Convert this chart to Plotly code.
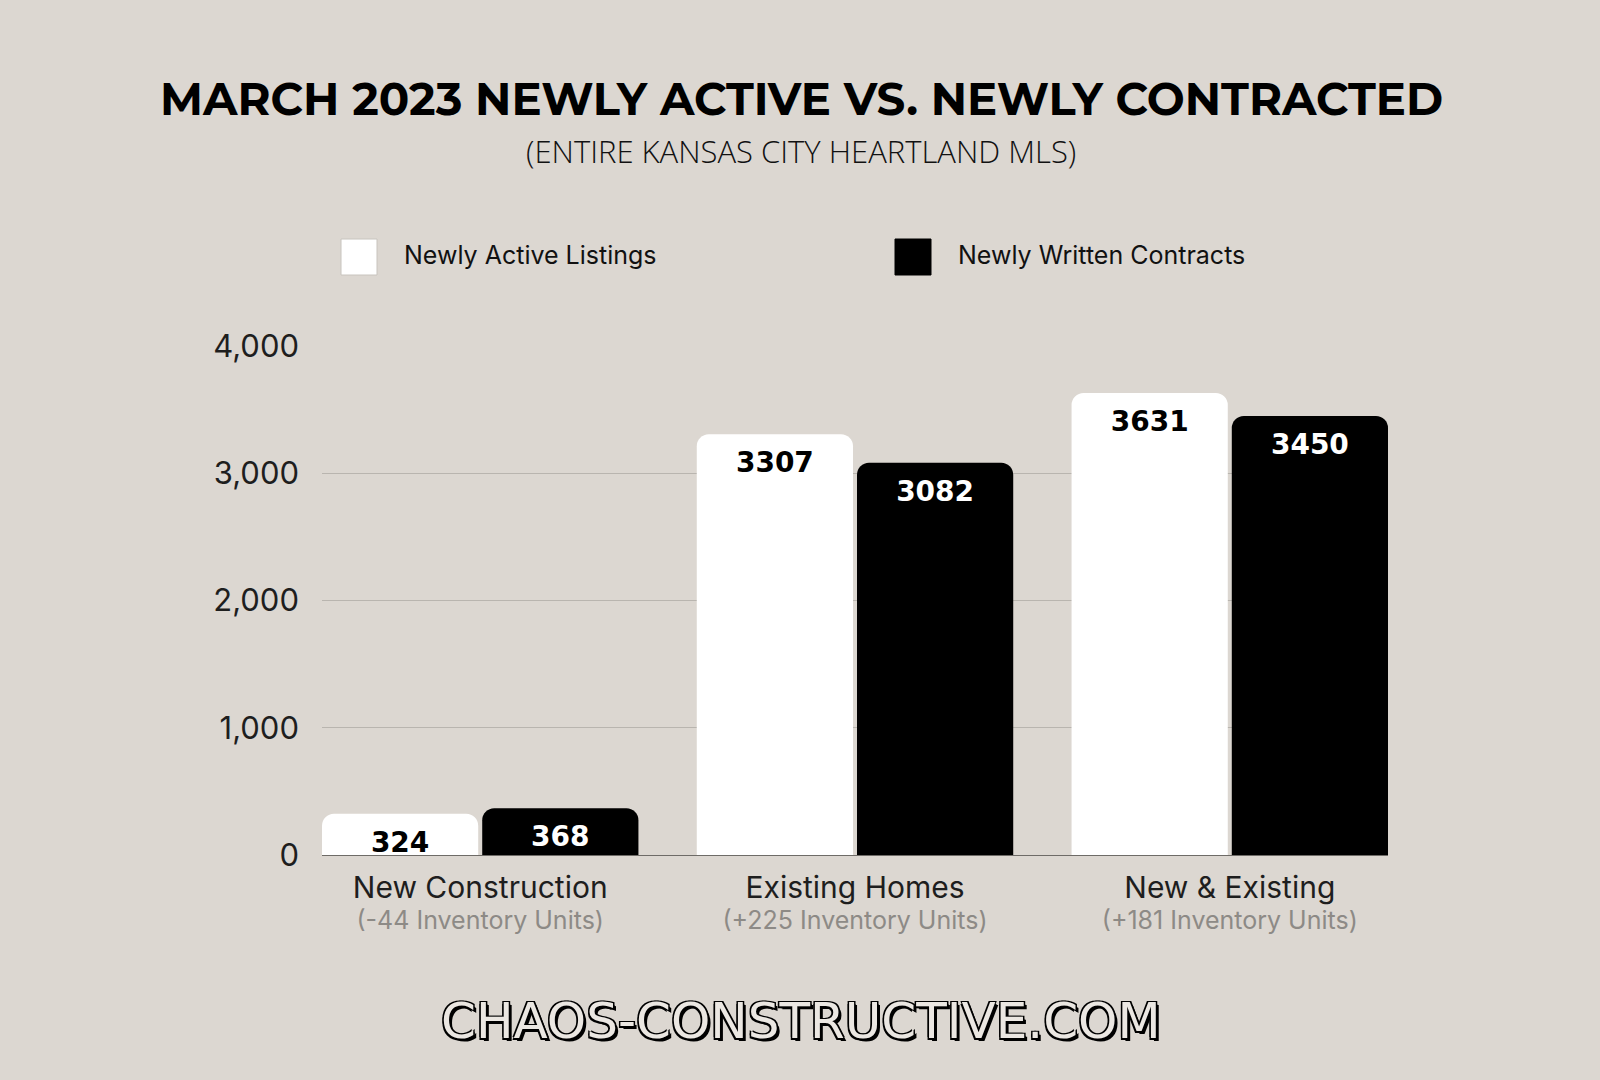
import plotly.graph_objects as go

categories = ["New Construction", "Existing Homes", "New & Existing"]
inventory_notes = ["(-44 Inventory Units)", "(+225 Inventory Units)", "(+181 Inventory Units)"]
newly_active = [324, 3307, 3631]
newly_contracted = [368, 3082, 3450]
series_names = ["Newly Active Listings", "Newly Written Contracts"]
y_ticks = [0, 1000, 2000, 3000, 4000]
y_tick_labels = ["0", "1,000", "2,000", "3,000", "4,000"]

BG = "#dcd7d1"
W, H = 1600, 1080

tick_text = [
    f"<span style='font-size:30px;color:#1e1e1e'>{c}</span><br>"
    f"<span style='color:#8d8a86;font-size:25px'>{n}</span>"
    for c, n in zip(categories, inventory_notes)
]

label_font = "DejaVu Sans"

fig = go.Figure()
fig.add_trace(go.Bar(
    x=categories, y=newly_active, name=series_names[0],
    marker=dict(color="#ffffff", line=dict(width=0)),
    texttemplate="%{y}", textposition="inside", insidetextanchor="end",
    textangle=0,
    insidetextfont=dict(family=label_font, size=28, color="#000000", weight="bold"),
    showlegend=False,
))
fig.add_trace(go.Bar(
    x=categories, y=newly_contracted, name=series_names[1],
    marker=dict(color="#000000", line=dict(width=0)),
    texttemplate="%{y}", textposition="inside", insidetextanchor="end",
    textangle=0,
    insidetextfont=dict(family=label_font, size=28, color="#ffffff", weight="bold"),
    showlegend=False,
))

bargap = 0.145
bargroupgap = 0.025
slot = (1 - bargap) / 2
edge = 0.5 - bargap / 2 - slot * bargroupgap / 2

ml, mr, mt, mb = 322, 212, 346, 225
PW = W - ml - mr
PH = H - mt - mb


def px(x):
    return (x - ml) / PW


def py(y):
    return (H - mb - y) / PH


fig.update_layout(
    width=W, height=H,
    paper_bgcolor=BG, plot_bgcolor=BG,
    margin=dict(l=ml, r=mr, t=mt, b=mb),
    barmode="group", bargap=bargap, bargroupgap=bargroupgap,
    barcornerradius=12,
    uniformtext=dict(minsize=28, mode="show"),
    font=dict(family="Inter", color="#1e1e1e"),
    xaxis=dict(
        tickmode="array", tickvals=categories, ticktext=tick_text,
        range=[-edge, 2 + edge],
        showgrid=False, ticks="", showline=False, zeroline=False,
        tickfont=dict(family="Inter", size=24, color="#1e1e1e"),
        ticklabelstandoff=18,
    ),
    yaxis=dict(
        range=[0, 4000], tickmode="array", tickvals=y_ticks, ticktext=y_tick_labels,
        showgrid=True, gridcolor="#b9b5af", gridwidth=1,
        zeroline=True, zerolinecolor="#6e6b67", zerolinewidth=1,
        ticks="", showline=False,
        tickfont=dict(family="Inter", size=31, color="#1e1e1e"),
        ticklabelstandoff=22,
    ),
)

annotations = [
    dict(text="<b>MARCH 2023 NEWLY ACTIVE VS. NEWLY CONTRACTED</b>",
         x=px(801), y=py(99), xref="paper", yref="paper", showarrow=False,
         xanchor="center", yanchor="middle",
         font=dict(family="Montserrat, Open Sans", size=45, color="#000000", weight=800)),
    dict(text="(ENTIRE KANSAS CITY HEARTLAND MLS)",
         x=px(801), y=py(151), xref="paper", yref="paper", showarrow=False,
         xanchor="center", yanchor="middle",
         font=dict(family="Open Sans", size=31, color="#111111", weight=300)),
    dict(text=series_names[0],
         x=px(402), y=py(255), xref="paper", yref="paper", showarrow=False,
         xanchor="left", yanchor="middle",
         font=dict(family="Inter", size=25, color="#111111")),
    dict(text=series_names[1],
         x=px(956), y=py(255), xref="paper", yref="paper", showarrow=False,
         xanchor="left", yanchor="middle",
         font=dict(family="Inter", size=25, color="#111111")),
    dict(text="CHAOS-CONSTRUCTIVE.COM",
         x=px(801), y=py(1021), xref="paper", yref="paper", showarrow=False,
         xanchor="center", yanchor="middle",
         font=dict(family="DejaVu Sans", size=50, color="#ebe7e2",
                   shadow="-1.5px -1.5px 0 #000, 1.5px -1.5px 0 #000, -1.5px 1.5px 0 #000, 1.5px 1.5px 0 #000, 3px 3px 0 #000")),
]
fig.update_layout(annotations=annotations)

shapes = [
    dict(type="rect", xref="paper", yref="paper",
         x0=px(341), x1=px(377), y0=py(239), y1=py(275),
         fillcolor="#ffffff", line=dict(color="#c8c4be", width=1)),
    dict(type="rect", xref="paper", yref="paper",
         x0=px(895), x1=px(931), y0=py(239), y1=py(275),
         fillcolor="#000000", line=dict(color="#000000", width=1)),
]
fig.update_layout(shapes=shapes)

fig.write_html("out.html", config={"displayModeBar": False},
               post_script="document.body.style.margin='0';")
